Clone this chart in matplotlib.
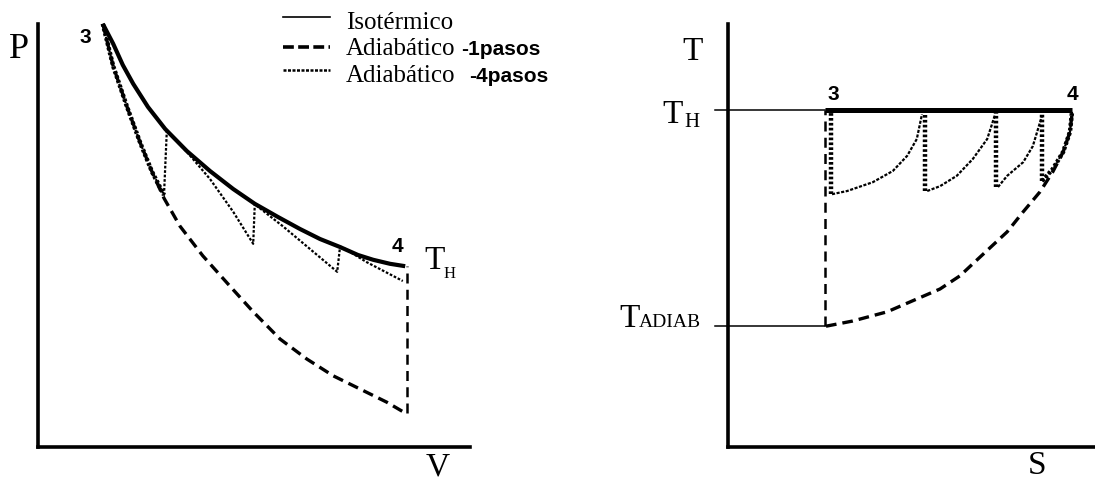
import matplotlib.pyplot as plt
from matplotlib.lines import Line2D

W, H = 1095, 481

# P-V diagram, arbitrary units with origin at the axis corner
v_iso = [1.62, 1.88, 2.12, 2.38, 2.75, 3.18, 3.72, 4.30, 4.88, 5.42,
         6.00, 6.55, 7.05, 7.55, 8.00, 8.38, 8.80, 9.18]
p_iso = [10.58, 10.08, 9.55, 9.08, 8.50, 7.95, 7.40, 6.90, 6.45, 6.08,
         5.75, 5.45, 5.20, 5.00, 4.80, 4.68, 4.58, 4.52]

v_ad1 = [1.62, 1.88, 2.22, 2.55, 2.85, 3.15, 3.55, 4.12, 4.80, 5.38,
         6.05, 6.72, 7.38, 8.05, 8.72, 9.18]
p_ad1 = [10.58, 9.52, 8.52, 7.62, 6.88, 6.22, 5.52, 4.78, 4.02, 3.38,
         2.70, 2.20, 1.78, 1.45, 1.12, 0.85]
v_close = 9.23

# four-step path: expansion, heating, expansion, ...
v_ad4 = [1.62, 1.88, 2.22, 2.55, 2.85, 3.15,
         3.22, 3.72, 4.30, 4.88, 5.38,
         5.42, 5.48, 6.12, 6.80, 7.48,
         7.55, 7.60, 8.22, 9.12]
p_ad4 = [10.58, 9.52, 8.52, 7.62, 6.88, 6.30,
         7.90, 7.38, 6.70, 5.88, 5.08,
         6.08, 6.02, 5.52, 4.95, 4.38,
         5.00, 5.00, 4.62, 4.15]

# T-S diagram
t_hot = 8.42
t_adiab = 3.02
s_3, s_4 = 2.42, 8.60

s_ad1 = [2.45, 3.12, 3.98, 4.72, 5.30, 5.80, 6.12, 6.55, 6.98, 7.38,
         7.80, 8.12, 8.38, 8.55, 8.60]
t_ad1 = [3.02, 3.15, 3.38, 3.70, 3.95, 4.28, 4.58, 4.98, 5.38, 5.88,
         6.38, 6.88, 7.38, 7.88, 8.32]

s_steps = [2.58, 4.92, 6.70, 7.85]
t_step_low = [6.32, 6.40, 6.50, 6.65]
s_heat = [[2.60, 2.98, 3.62, 4.12, 4.48, 4.72, 4.85],
          [4.98, 5.30, 5.72, 6.12, 6.48, 6.68],
          [6.75, 6.98, 7.38, 7.62, 7.85],
          [7.85, 8.12, 8.38, 8.55, 8.60]]
t_heat = [[6.32, 6.40, 6.62, 6.90, 7.28, 7.70, 8.32],
          [6.40, 6.52, 6.78, 7.20, 7.70, 8.32],
          [6.50, 6.78, 7.12, 7.52, 8.28],
          [6.65, 6.95, 7.38, 7.88, 8.38]]

SERIF = "Liberation Serif"
SANS = "Liberation Sans"
UNIT = 40.0  # pixels per data unit


def frac(x, y):
    return x / W, 1 - y / H


def make_axes(fig, x0, x1, y0, y1):
    ax = fig.add_axes([x0 / W, 1 - y1 / H, (x1 - x0) / W, (y1 - y0) / H])
    ax.set_xlim(0, (x1 - x0) / UNIT)
    ax.set_ylim(0, (y1 - y0) / UNIT)
    for side in ["top", "right"]:
        ax.spines[side].set_visible(False)
    for side in ["left", "bottom"]:
        ax.spines[side].set_linewidth(2.6)
    ax.set_xticks([])
    ax.set_yticks([])
    ax.patch.set_alpha(0)
    return ax


fig = plt.figure(figsize=(W / 100, H / 100), dpi=100)

# left: P-V
ax1 = make_axes(fig, 38, 470, 25, 448)
ax1.plot(v_iso, p_iso, color="black", lw=3.0, clip_on=False,
         solid_capstyle="butt", solid_joinstyle="round")
ax1.plot(v_ad1, p_ad1, color="black", lw=2.4, dashes=(3.2, 1.8),
         clip_on=False)
ax1.vlines(v_close, p_ad1[-1], p_iso[-1], color="black", lw=1.8,
           linestyles=(0, (4, 2.5)))
ax1.plot(v_ad4, p_ad4, color="black", lw=1.6, dashes=(1.2, 0.8),
         clip_on=False)
ax1.plot(v_ad4[:6], p_ad4[:6], color="black", lw=3.2, dashes=(0.6, 0.5))

# right: T-S
ax2 = make_axes(fig, 728, 1095, 25, 448)
ax2.plot([-0.33, s_3], [t_hot, t_hot], color="black", lw=1.1,
         clip_on=False)
ax2.plot([-0.33, s_3], [t_adiab, t_adiab], color="black", lw=1.1,
         clip_on=False)
ax2.plot([s_3, s_4], [t_hot, t_hot], color="black", lw=3.6,
         solid_capstyle="butt")
ax2.vlines(s_3, t_adiab, t_hot, color="black", lw=1.8,
           linestyles=(0, (4, 2.5)))
ax2.plot(s_ad1, t_ad1, color="black", lw=2.4, dashes=(3.2, 1.8))
ax2.vlines(s_steps, t_step_low, t_hot, color="black", lw=3.2,
           linestyles=(0, (0.6, 0.5)))
for s_seg, t_seg in zip(s_heat, t_heat):
    ax2.plot(s_seg, t_seg, color="black", lw=1.6, dashes=(1.4, 0.7))
ax2.plot(s_heat[-1], t_heat[-1], color="black", lw=3.2, dashes=(0.6, 0.5))


def label(x, y, s, size, family=SERIF, weight="normal"):
    fig.text(*frac(x, y), s, fontsize=size, family=family,
             fontweight=weight, ha="left", va="baseline")


# axis names and state points
label(9, 58, "P", 26)
label(426, 476, "V", 24)
label(682, 60, "T", 24)
label(1028, 474, "S", 24)
label(79, 43, "3", 15, SANS, "bold")
label(392, 252, "4", 15, SANS, "bold")
label(827, 100, "3", 15, SANS, "bold")
label(1067, 100, "4", 15, SANS, "bold")
label(424, 269, "T", 24)
label(444, 278, "H", 12)
label(662, 123, "T", 24)
label(684, 127, "H", 15)
label(619, 327, "T", 24)
label(639, 327, "ADIAB", 14)

# legend
for y, style in [(18, dict(lw=1.2)),
                 (48, dict(lw=2.6, dashes=(3.0, 1.2))),
                 (71, dict(lw=1.8, dashes=(1.2, 0.6)))]:
    x0, y0 = frac(283, y)
    x1, _ = frac(330, y)
    fig.add_artist(Line2D([x0, x1], [y0, y0], color="black",
                          transform=fig.transFigure, **style))
label(346, 29, "Isotérmico", 18)
label(346, 55, "Adiabático", 18)
label(461, 55, "-1pasos", 15, SANS, "bold")
label(346, 82, "Adiabático", 18)
label(469, 82, "-4pasos", 15, SANS, "bold")

fig.savefig("out.png", dpi=100)
